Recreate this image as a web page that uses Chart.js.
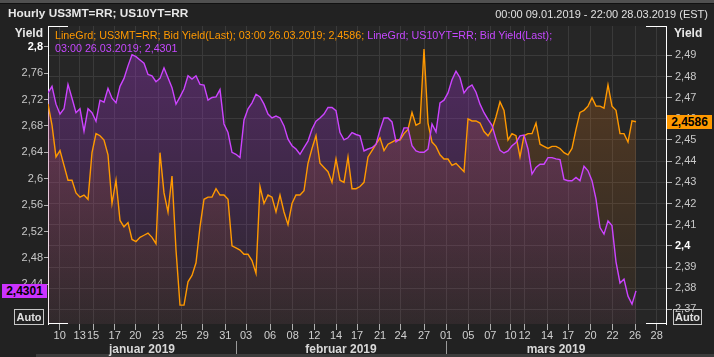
<!DOCTYPE html>
<html><head><meta charset="utf-8">
<script src="https://cdn.jsdelivr.net/npm/chart.js@4"></script>
<style>
html,body{margin:0;padding:0;background:#222;}
#wrap{position:relative;width:714px;height:357px;overflow:hidden;background:#222;font-family:"Liberation Sans",Arial,sans-serif;}
canvas{position:absolute;left:0;top:0;}
.t{position:absolute;white-space:nowrap;line-height:1;}
#topstrip{position:absolute;left:0;top:0;width:714px;height:3px;background:#505050;border-bottom:1px solid #111;}
#botstrip{position:absolute;left:36px;top:354px;width:678px;height:3px;background:#3c3c3c;}
.auto{position:absolute;top:309px;height:14px;border:1px solid #c8c8c8;color:#e0e0e0;font-weight:bold;font-size:11px;line-height:14px;text-align:center;}
.badge{position:absolute;height:14px;line-height:14px;font-weight:bold;font-size:12px;color:#000;text-align:center;}
.month{position:absolute;top:343px;font-weight:bold;font-size:12px;color:#d8d8d8;transform:translateX(-50%);white-space:nowrap;line-height:1;}
</style></head><body>
<div id="wrap">
<div id="topstrip"></div>
<canvas id="c" width="714" height="357"></canvas>
<div id="botstrip"></div>
<div class="t" style="left:8px;top:8px;font-weight:bold;font-size:11.8px;color:#e8e8e8;">Hourly US3MT=RR; US10YT=RR</div>
<div class="t" style="right:6px;top:9px;font-size:11px;color:#e0e0e0;">00:00 09.01.2019 - 22:00 28.03.2019 (EST)</div>
<div class="t" style="left:55px;top:30px;font-size:10.75px;"><span style="color:#ff9900">LineGrd; US3MT=RR; Bid Yield(Last); 03:00 26.03.2019; 2,4586; </span><span style="color:#c648ff">LineGrd; US10YT=RR; Bid Yield(Last);</span></div>
<div class="t" style="left:55px;top:43px;font-size:10.75px;color:#c648ff;">03:00 26.03.2019; 2,4301</div>
<div class="t" style="right:671px;top:27px;font-weight:bold;font-size:12px;color:#e8e8e8;">Yield</div>
<div class="t" style="left:674px;top:27px;font-weight:bold;font-size:12px;color:#e8e8e8;">Yield</div>
<div class="auto" style="left:14px;width:28px;">Auto</div>
<div class="auto" style="left:673px;width:27px;">Auto</div>
<div class="badge" id="badgeL" style="left:2px;width:45px;background:#cc33ff;">2,4301</div>
<div class="badge" id="badgeR" style="left:667px;width:45px;background:#ff9900;">2,4586</div>
<div id="months"></div>
</div>
<script>
// ---- data (x = sample index along the trading-time axis) ----
const xTickPos = [2.93,7.93,11.25,16.68,21.83,27.5,33.33,38.68,44.33,49.5,55.5,61.18,66.58,72,77.25,83,88.18,94,99.5,105.08,110.58,115.63,119.13,124.75,130,135.63,141.13,146.75,152.18];
const xTickLabels = ['10','13','15','17','20','23','25','29','31','03','06','08','12','14','17','21','24','27','01','05','07','10','12','14','17','20','22','26','28'];
const monthNames = ['januar 2019','februar 2019','mars 2019'];
const monthBounds = [0,47,99.5,154.5];
const leftTicks = [2.44,2.48,2.52,2.56,2.6,2.64,2.68,2.72,2.76,2.8];
const rightTicks = [2.37,2.38,2.39,2.4,2.41,2.42,2.43,2.44,2.45,2.46,2.47,2.48,2.49];
const us10y = [2.730,2.740,2.713,2.698,2.706,2.743,2.722,2.700,2.706,2.672,
 2.706,2.700,2.687,2.719,2.716,2.737,2.722,2.715,2.740,2.752,
 2.771,2.788,2.785,2.780,2.775,2.758,2.756,2.747,2.752,2.768,
 2.753,2.738,2.713,2.724,2.736,2.756,2.751,2.756,2.743,2.742,
 2.719,2.723,2.724,2.735,2.683,2.670,2.640,2.637,2.632,2.689,
 2.706,2.715,2.728,2.724,2.713,2.698,2.692,2.695,2.692,2.680,
 2.660,2.650,2.645,2.637,2.647,2.657,2.675,2.687,2.692,2.698,
 2.708,2.708,2.703,2.670,2.659,2.662,2.670,2.667,2.665,2.642,
 2.645,2.647,2.652,2.674,2.692,2.692,2.686,2.656,2.660,2.677,
 2.677,2.650,2.642,2.640,2.640,2.645,2.683,2.671,2.715,2.719,
 2.730,2.750,2.763,2.753,2.730,2.738,2.742,2.731,2.713,2.700,
 2.690,2.681,2.660,2.643,2.639,2.642,2.650,2.655,2.665,2.666,
 2.645,2.607,2.617,2.622,2.622,2.632,2.632,2.630,2.629,2.599,
 2.597,2.597,2.602,2.597,2.619,2.612,2.597,2.569,2.526,2.516,
 2.536,2.529,2.474,2.442,2.448,2.422,2.410,2.4301];
const us3m = [2.467,2.457,2.442,2.445,2.438,2.431,2.431,2.425,2.423,2.424,
 2.422,2.444,2.453,2.452,2.450,2.443,2.420,2.431,2.412,2.409,
 2.411,2.403,2.402,2.404,2.405,2.406,2.404,2.401,2.444,2.425,
 2.416,2.433,2.398,2.372,2.372,2.383,2.386,2.392,2.409,2.422,
 2.423,2.423,2.427,2.424,2.424,2.422,2.400,2.399,2.398,2.396,
 2.396,2.393,2.387,2.428,2.420,2.424,2.423,2.416,2.424,2.416,
 2.410,2.420,2.424,2.424,2.426,2.439,2.446,2.452,2.439,2.437,
 2.435,2.430,2.441,2.431,2.430,2.442,2.427,2.427,2.428,2.430,
 2.442,2.445,2.448,2.451,2.445,2.448,2.449,2.450,2.450,2.453,
 2.455,2.463,2.457,2.458,2.493,2.458,2.449,2.447,2.443,2.441,
 2.441,2.438,2.439,2.437,2.435,2.460,2.459,2.459,2.458,2.454,
 2.452,2.455,2.461,2.468,2.464,2.450,2.453,2.452,2.442,2.452,
 2.453,2.453,2.458,2.448,2.447,2.446,2.447,2.447,2.446,2.444,
 2.443,2.446,2.455,2.463,2.464,2.466,2.470,2.466,2.466,2.465,
 2.476,2.466,2.464,2.453,2.453,2.449,2.459,2.4586];

const FONT = '"Liberation Sans", Arial, sans-serif';
const fmt = v => v.toFixed(2).replace(/0$/,'').replace('.',',');
function grad(ctx, c0, c1){
  const ch = ctx.chart, a = ch.chartArea;
  if(!a) return c1;
  const g = ch.ctx.createLinearGradient(0,a.top,0,a.bottom);
  g.addColorStop(0,c0); g.addColorStop(1,c1);
  return g;
}
const bgPlugin = {
  id:'bg',
  beforeDraw(ch){
    const a = ch.chartArea, c = ch.ctx;
    c.save(); c.fillStyle = '#262626';
    c.fillRect(a.left, a.top, a.right-a.left, a.bottom-a.top); c.restore();
  },
  afterDraw(ch){
    const a = ch.chartArea, c = ch.ctx, x = ch.scales.x;
    c.save();
    c.strokeStyle = '#ffffff'; c.lineWidth = 1;
    c.beginPath();
    [a.top+0.5, a.bottom-0.5].forEach(y=>{
      c.moveTo(a.left, y); c.lineTo(a.left+20, y);
      c.moveTo(a.right-20, y); c.lineTo(a.right, y);
    });
    c.stroke();
    c.strokeStyle = '#9a9a9a';
    c.beginPath();
    [monthBounds[1], monthBounds[2]].forEach(v=>{
      const px = Math.round(x.getPixelForValue(v))+0.5;
      c.moveTo(px, 341); c.lineTo(px, 357);
    });
    c.stroke();
    c.restore();
  }
};
const pts = arr => arr.map((v,i)=>({x:i, y:v}));
const chart = new Chart(document.getElementById('c'), {
  type:'line',
  data:{datasets:[
    {label:'US10YT=RR', data:pts(us10y), yAxisID:'yL', borderColor:'#cc44ff', borderWidth:1.4,
     pointRadius:0, tension:0, fill:'start',
     backgroundColor: ctx=>grad(ctx,'rgba(150,50,190,0.42)','rgba(150,50,190,0.04)')},
    {label:'US3MT=RR', data:pts(us3m), yAxisID:'yR', borderColor:'#ff9900', borderWidth:1.4,
     pointRadius:0, tension:0, fill:'start',
     backgroundColor: ctx=>grad(ctx,'rgba(255,130,20,0.24)','rgba(255,130,20,0.03)')}
  ]},
  options:{
    responsive:false, animation:false, devicePixelRatio:1,
    layout:{padding:{top:26,left:0,right:0,bottom:0}},
    plugins:{legend:{display:false}, tooltip:{enabled:false}, filler:{drawTime:'beforeDatasetsDraw'}},
    scales:{
      x:{type:'linear', min:0, max:154.5,
        afterBuildTicks:s=>{ s.ticks = xTickPos.map(v=>({value:v})); },
        afterFit:s=>{ s.height = 33; },
        border:{display:false},
        grid:{color:'#3a3a3a', tickColor:'#b0b0b0', tickLength:6, drawTicks:true},
        ticks:{autoSkip:false, maxRotation:0, padding:-1, color:'#d0d0d0', font:{family:FONT,size:11},
          callback:(v,i)=>xTickLabels[i]}},
      yL:{type:'linear', position:'left', min:2.37985, max:2.8314,
        afterBuildTicks:s=>{ s.ticks = leftTicks.map(v=>({value:v})); },
        afterFit:s=>{ s.width = 48; },
        border:{display:true, color:'#ffffff', width:1},
        grid:{drawOnChartArea:false, tickColor:'#b0b0b0', tickLength:4},
        ticks:{padding:1, callback:v=>fmt(v),
          color:c=>(c.tick && c.tick.value===2.8)?'#ffffff':'#c8c8c8',
          font:c=>({family:FONT,size:11,weight:(c.tick && c.tick.value===2.8)?'bold':'normal'})}},
      yR:{type:'linear', position:'right', min:2.36308, max:2.50384,
        afterBuildTicks:s=>{ s.ticks = rightTicks.map(v=>({value:v})); },
        afterFit:s=>{ s.width = 48; },
        border:{display:true, color:'#ffffff', width:1},
        grid:{color:'#3a3a3a', tickColor:'#b0b0b0', tickLength:6},
        ticks:{padding:3, callback:v=>fmt(v),
          color:c=>(c.tick && c.tick.value===2.4)?'#ffffff':'#c8c8c8',
          font:c=>({family:FONT,size:11,weight:(c.tick && c.tick.value===2.4)?'bold':'normal'})}}
    }
  },
  plugins:[bgPlugin]
});
// place badges and month labels from the scales
const yL = chart.scales.yL, yR = chart.scales.yR, xs = chart.scales.x;
document.getElementById('badgeL').style.top = (Math.round(yL.getPixelForValue(us10y[us10y.length-1]))-7)+'px';
document.getElementById('badgeR').style.top = (Math.round(yR.getPixelForValue(us3m[us3m.length-1]))-7)+'px';
const mDiv = document.getElementById('months');
monthNames.forEach((m,i)=>{
  const d = document.createElement('div');
  d.className = 'month'; d.textContent = m;
  d.style.left = xs.getPixelForValue((monthBounds[i]+monthBounds[i+1])/2)+'px';
  mDiv.appendChild(d);
});
</script>
</body></html>
